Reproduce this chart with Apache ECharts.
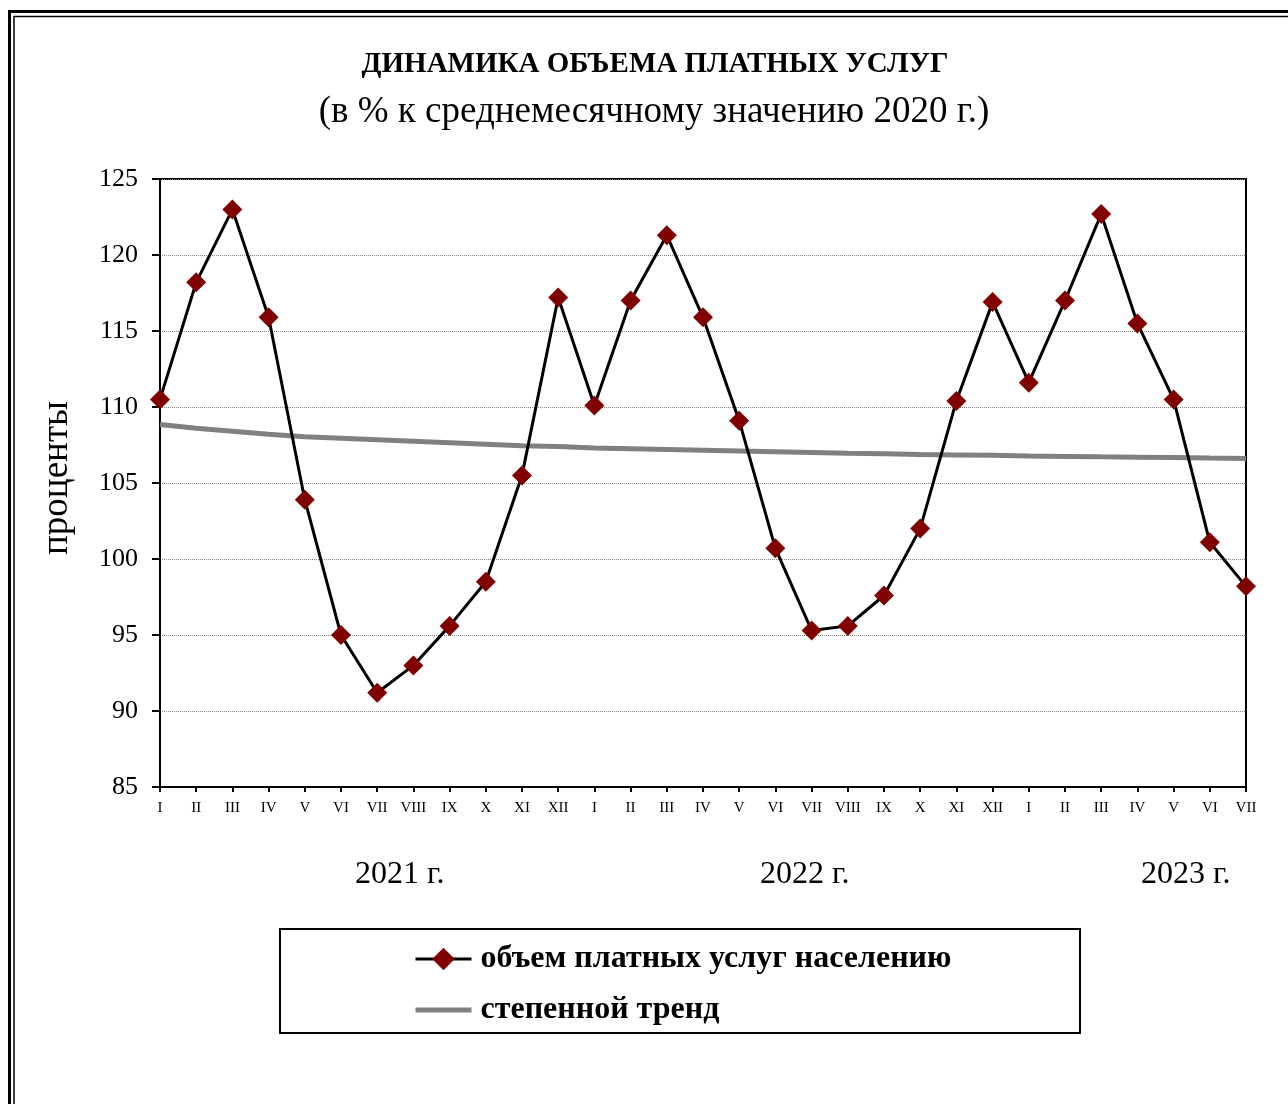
<!DOCTYPE html>
<html>
<head>
<meta charset="utf-8">
<script src="https://cdn.jsdelivr.net/npm/echarts@6/dist/echarts.min.js"></script>
<style>
html,body{margin:0;padding:0;background:#fff;}
#chart{width:1288px;height:1104px;}
</style>
</head>
<body>
<div id="chart"></div>
<script>
var months = ['I','II','III','IV','V','VI','VII','VIII','IX','X','XI','XII',
              'I','II','III','IV','V','VI','VII','VIII','IX','X','XI','XII',
              'I','II','III','IV','V','VI','VII'];
var paidServices = [110.5,118.2,123.0,115.9,103.9,95.0,91.2,93.0,95.6,98.5,105.5,117.2,
                    110.1,117.0,121.3,115.9,109.1,100.7,95.3,95.6,97.6,102.0,110.4,116.9,
                    111.6,117.0,122.7,115.5,110.5,101.1,98.2];
var powerTrend = [108.85,108.6,108.4,108.2,108.05,107.95,107.85,107.75,107.65,107.55,107.45,107.4,
                  107.3,107.25,107.2,107.15,107.1,107.05,107.0,106.95,106.92,106.88,106.85,106.82,
                  106.78,106.75,106.72,106.7,106.67,106.64,106.62];
var yearLabels = ['2021 г.','2022 г.','2023 г.'];
var seriesNames = ['объем платных услуг населению','степенной тренд'];

var serif = '"Liberation Serif","DejaVu Serif",serif';
var chart = echarts.init(document.getElementById('chart'));
chart.setOption({
  backgroundColor:'#fff',
  animation:false,
  title:[
    {text:'ДИНАМИКА ОБЪЕМА ПЛАТНЫХ УСЛУГ', left:650, top:45, textAlign:'center',
     textStyle:{fontFamily:serif,fontSize:29,fontWeight:'bold',color:'#000'}},
    {text:'(в % к среднемесячному значению 2020 г.)', left:649, top:89, textAlign:'center',
     textStyle:{fontFamily:serif,fontSize:37,fontWeight:'normal',color:'#000'}}
  ],
  grid:{left:160,right:42,top:179,bottom:317,show:true,borderColor:'#000',borderWidth:2,backgroundColor:'transparent'},
  legend:{
    orient:'vertical', left:409, top:938, itemGap:19, itemWidth:56, itemHeight:28,
    lineStyle:{width:3},
    textStyle:{fontFamily:serif,fontSize:32,fontWeight:'bold',color:'#000',padding:[0,0,0,4]},
    data:[
      {name:seriesNames[0]},
      {name:seriesNames[1], icon:'path://M0,0 L56,0 L56,5 L0,5 Z', itemStyle:{color:'#808080'}}
    ]
  },
  xAxis:{
    type:'category', data:months, boundaryGap:false,
    axisLine:{lineStyle:{color:'#000',width:2}},
    axisTick:{show:true,interval:0,length:5,inside:false,lineStyle:{color:'#000',width:2}},
    axisLabel:{interval:0,margin:14,fontFamily:serif,fontSize:15,color:'#000'},
    splitLine:{show:false}
  },
  yAxis:{
    type:'value', min:85, max:125, interval:5,
    name:'проценты', nameLocation:'middle', nameRotate:90, nameGap:84,
    nameTextStyle:{fontFamily:serif,fontSize:37,color:'#000',padding:[0,0,0,10]},
    axisLine:{show:true,lineStyle:{color:'#000',width:2}},
    axisTick:{show:true,length:8,lineStyle:{color:'#000',width:2}},
    axisLabel:{margin:22,fontFamily:serif,fontSize:26,color:'#000'},
    splitLine:{show:true,lineStyle:{color:'#808080',width:1,type:'dotted'}}
  },
  graphic:[
    {type:'rect',shape:{x:9.5,y:11.5,width:1400,height:1200},style:{fill:'none',stroke:'#000',lineWidth:3},silent:true},
    {type:'rect',shape:{x:14,y:16.5,width:1400,height:1200},style:{fill:'none',stroke:'#000',lineWidth:1.5},silent:true},
    {type:'rect',shape:{x:280,y:929,width:800,height:104},style:{fill:'none',stroke:'#000',lineWidth:2},silent:true},
    {type:'text',left:355,top:859,style:{text:yearLabels[0],font:'32px '+serif,fill:'#000'}},
    {type:'text',left:760,top:859,style:{text:yearLabels[1],font:'32px '+serif,fill:'#000'}},
    {type:'text',left:1141,top:859,style:{text:yearLabels[2],font:'32px '+serif,fill:'#000'}}
  ],
  series:[
    {name:seriesNames[1], type:'line', data:powerTrend, symbol:'none', z:2,
     lineStyle:{color:'#808080',width:5}, itemStyle:{color:'#808080'}},
    {name:seriesNames[0], type:'line', data:paidServices, symbol:'diamond', symbolSize:[20,20], z:3,
     lineStyle:{color:'#000',width:3}, itemStyle:{color:'#800000',borderWidth:0}}
  ]
});
</script>
</body>
</html>
